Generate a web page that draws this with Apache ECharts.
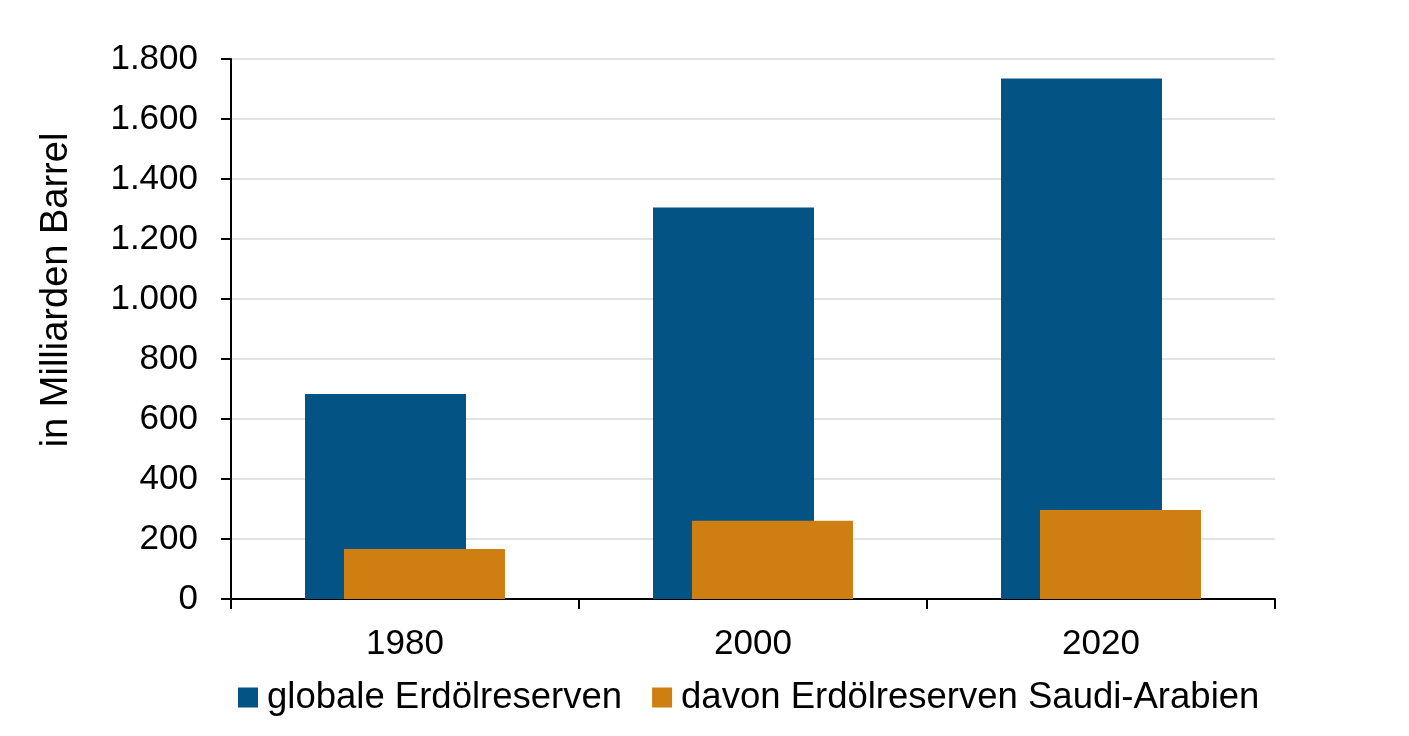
<!DOCTYPE html>
<html>
<head>
<meta charset="utf-8">
<script src="https://cdn.jsdelivr.net/npm/echarts@6/dist/echarts.min.js"></script>
<style>html,body{margin:0;padding:0;background:#fff}#c{width:1409px;height:736px}</style>
</head>
<body>
<div id="c"></div>
<script>
const categories = ['1980', '2000', '2020'];
const globalReserves = [683, 1305, 1735];
const saudiReserves = [167, 261, 297];
const seriesNames = ['globale Erdölreserven', 'davon Erdölreserven Saudi-Arabien'];
const yAxisName = 'in Milliarden Barrel';

const fmt = v => String(v).replace(/\B(?=(\d{3})+(?!\d))/g, '.');
const chart = echarts.init(document.getElementById('c'));
const font = 'Liberation Sans, Arial, sans-serif';
chart.setOption({
  animation: false,
  textStyle: { fontFamily: font },
  grid: { left: 231, right: 134, top: 59, bottom: 137 },
  legend: {
    top: 674, left: 233,
    itemWidth: 20, itemHeight: 20, itemGap: 30,
    icon: 'rect',
    textStyle: { fontSize: 36.5, color: '#000', fontFamily: font, padding: [0, 0, 0, 4] },
    data: seriesNames
  },
  xAxis: {
    type: 'category',
    data: categories,
    axisLine: { lineStyle: { color: '#000', width: 2 } },
    axisTick: { show: true, length: 10, lineStyle: { color: '#000', width: 2 } },
    axisLabel: { fontSize: 35, color: '#000', margin: 28, fontFamily: font }
  },
  yAxis: {
    type: 'value',
    min: 0, max: 1800, interval: 200,
    name: yAxisName,
    nameLocation: 'middle',
    nameRotate: 90,
    nameGap: 155,
    nameTextStyle: { fontSize: 38, color: '#000', fontFamily: font, padding: [0, 0, 0, 78] },
    axisLine: { show: true, lineStyle: { color: '#000', width: 2 } },
    axisTick: { show: true, length: 10, lineStyle: { color: '#000', width: 2 } },
    axisLabel: { fontSize: 35, color: '#000', margin: 33, formatter: fmt, fontFamily: font },
    splitLine: { lineStyle: { color: '#d9d9d9', width: 1.5 } }
  },
  series: [
    {
      name: seriesNames[0], type: 'bar', data: globalReserves,
      barWidth: 161, barGap: '-75.8%',
      itemStyle: { color: '#045385' }
    },
    {
      name: seriesNames[1], type: 'bar', data: saudiReserves,
      barWidth: 161,
      itemStyle: { color: '#CF7F12' }
    }
  ]
});
</script>
</body>
</html>
